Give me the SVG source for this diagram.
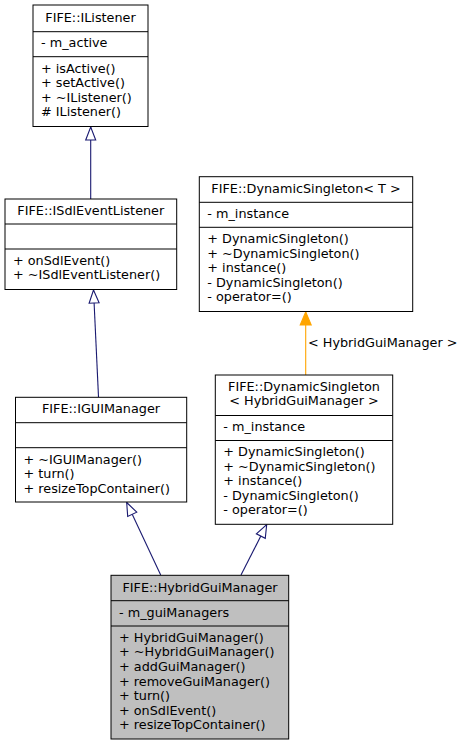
<svg xmlns="http://www.w3.org/2000/svg" width="467" height="745" viewBox="0 0 467 745">
<style>
.box{fill:#fff;stroke:#000;stroke-width:1}
.sel{fill:#bfbfbf;stroke:#000;stroke-width:1}
.sep{stroke:#000;stroke-width:1}
text{font-family:"DejaVu Sans","Liberation Sans",sans-serif;font-size:12.8px;fill:#000}
.c{text-anchor:middle}
.e{fill:none;stroke:#191970;stroke-width:1.1}
.o{fill:none;stroke:#ffa500;stroke-width:1.1}
</style>
<defs>
<marker id="tb" viewBox="-1 -7 16 14" markerWidth="16" markerHeight="14" refX="13" refY="0" orient="auto" markerUnits="userSpaceOnUse">
<path d="M0,-5 L13,0 L0,5 Z" fill="#fff" stroke="#191970" stroke-width="1.1"/>
</marker>
<marker id="to" viewBox="-1 -7 16 14" markerWidth="16" markerHeight="14" refX="13" refY="0" orient="auto" markerUnits="userSpaceOnUse">
<path d="M0,-5.5 L13,0 L0,5.5 Z" fill="#ffa500" stroke="#ffa500" stroke-width="1.1"/>
</marker>
</defs>
<g id="connectors">
<path class="e" d="M90.7,199 L90.7,127" marker-end="url(#tb)"/>
<path class="e" d="M98.5,397 L93.5,290" marker-end="url(#tb)"/>
<path class="o" d="M305.7,375 L305.7,312" marker-end="url(#to)"/>
<text x="308" y="346.5">&lt; HybridGuiManager &gt;</text>
<path class="e" d="M160.7,575 L126.7,502.5" marker-end="url(#tb)"/>
<path class="e" d="M241,575 L266.7,524.5" marker-end="url(#tb)"/>
</g>
<g id="IListener">
<rect class="box" x="33" y="5" width="115" height="121.5"/>
<line class="sep" x1="33" y1="31.7" x2="148" y2="31.7"/>
<line class="sep" x1="33" y1="56.7" x2="148" y2="56.7"/>
<text class="c" x="90.5" y="21.5">FIFE::IListener</text>
<text x="41" y="47.3">- m_active</text>
<text x="41" y="72.5">+ isActive()</text>
<text x="41" y="87">+ setActive()</text>
<text x="41" y="101.5">+ ~IListener()</text>
<text x="41" y="116">#  IListener()</text>
</g>
<g id="ISdlEventListener">
<rect class="box" x="5" y="199" width="171.7" height="90.5"/>
<line class="sep" x1="5" y1="224" x2="176.7" y2="224"/>
<line class="sep" x1="5" y1="249" x2="176.7" y2="249"/>
<text class="c" x="90.8" y="215">FIFE::ISdlEventListener</text>
<text x="13" y="264.8">+ onSdlEvent()</text>
<text x="13" y="279.3">+ ~ISdlEventListener()</text>
</g>
<g id="DynamicSingletonT">
<rect class="box" x="199.3" y="176.7" width="213.4" height="134.8"/>
<line class="sep" x1="199.3" y1="202.3" x2="412.7" y2="202.3"/>
<line class="sep" x1="199.3" y1="227.3" x2="412.7" y2="227.3"/>
<text class="c" x="306" y="192.7">FIFE::DynamicSingleton&lt; T &gt;</text>
<text x="207.3" y="218">- m_instance</text>
<text x="207.3" y="243.2">+ DynamicSingleton()</text>
<text x="207.3" y="257.7">+ ~DynamicSingleton()</text>
<text x="207.3" y="272.2">+ instance()</text>
<text x="207.3" y="286.7">- DynamicSingleton()</text>
<text x="207.3" y="301.2">- operator=()</text>
</g>
<g id="DynamicSingletonHGM">
<rect class="box" x="215.3" y="375" width="177.4" height="149.3"/>
<line class="sep" x1="215.3" y1="415.5" x2="392.7" y2="415.5"/>
<line class="sep" x1="215.3" y1="440.5" x2="392.7" y2="440.5"/>
<text class="c" x="304" y="390.7">FIFE::DynamicSingleton</text>
<text class="c" x="304" y="405.2">&lt; HybridGuiManager &gt;</text>
<text x="223.3" y="431">- m_instance</text>
<text x="223.3" y="456.3">+ DynamicSingleton()</text>
<text x="223.3" y="470.8">+ ~DynamicSingleton()</text>
<text x="223.3" y="485.3">+ instance()</text>
<text x="223.3" y="499.8">- DynamicSingleton()</text>
<text x="223.3" y="514.3">- operator=()</text>
</g>
<g id="IGUIManager">
<rect class="box" x="15.5" y="397.3" width="171.2" height="104.7"/>
<line class="sep" x1="15.5" y1="422.7" x2="186.7" y2="422.7"/>
<line class="sep" x1="15.5" y1="447.7" x2="186.7" y2="447.7"/>
<text class="c" x="101" y="413">FIFE::IGUIManager</text>
<text x="23.5" y="463.7">+ ~IGUIManager()</text>
<text x="23.5" y="478.2">+ turn()</text>
<text x="23.5" y="492.7">+ resizeTopContainer()</text>
</g>
<g id="HybridGuiManager">
<rect class="sel" x="111" y="575.3" width="177.7" height="163.7"/>
<line class="sep" x1="111" y1="600.7" x2="288.7" y2="600.7"/>
<line class="sep" x1="111" y1="626" x2="288.7" y2="626"/>
<text class="c" x="200" y="591.5">FIFE::HybridGuiManager</text>
<text x="119" y="616.5">- m_guiManagers</text>
<text x="119" y="641.7">+ HybridGuiManager()</text>
<text x="119" y="656.3">+ ~HybridGuiManager()</text>
<text x="119" y="670.9">+ addGuiManager()</text>
<text x="119" y="685.5">+ removeGuiManager()</text>
<text x="119" y="700.1">+ turn()</text>
<text x="119" y="714.7">+ onSdlEvent()</text>
<text x="119" y="729.3">+ resizeTopContainer()</text>
</g>
</svg>
